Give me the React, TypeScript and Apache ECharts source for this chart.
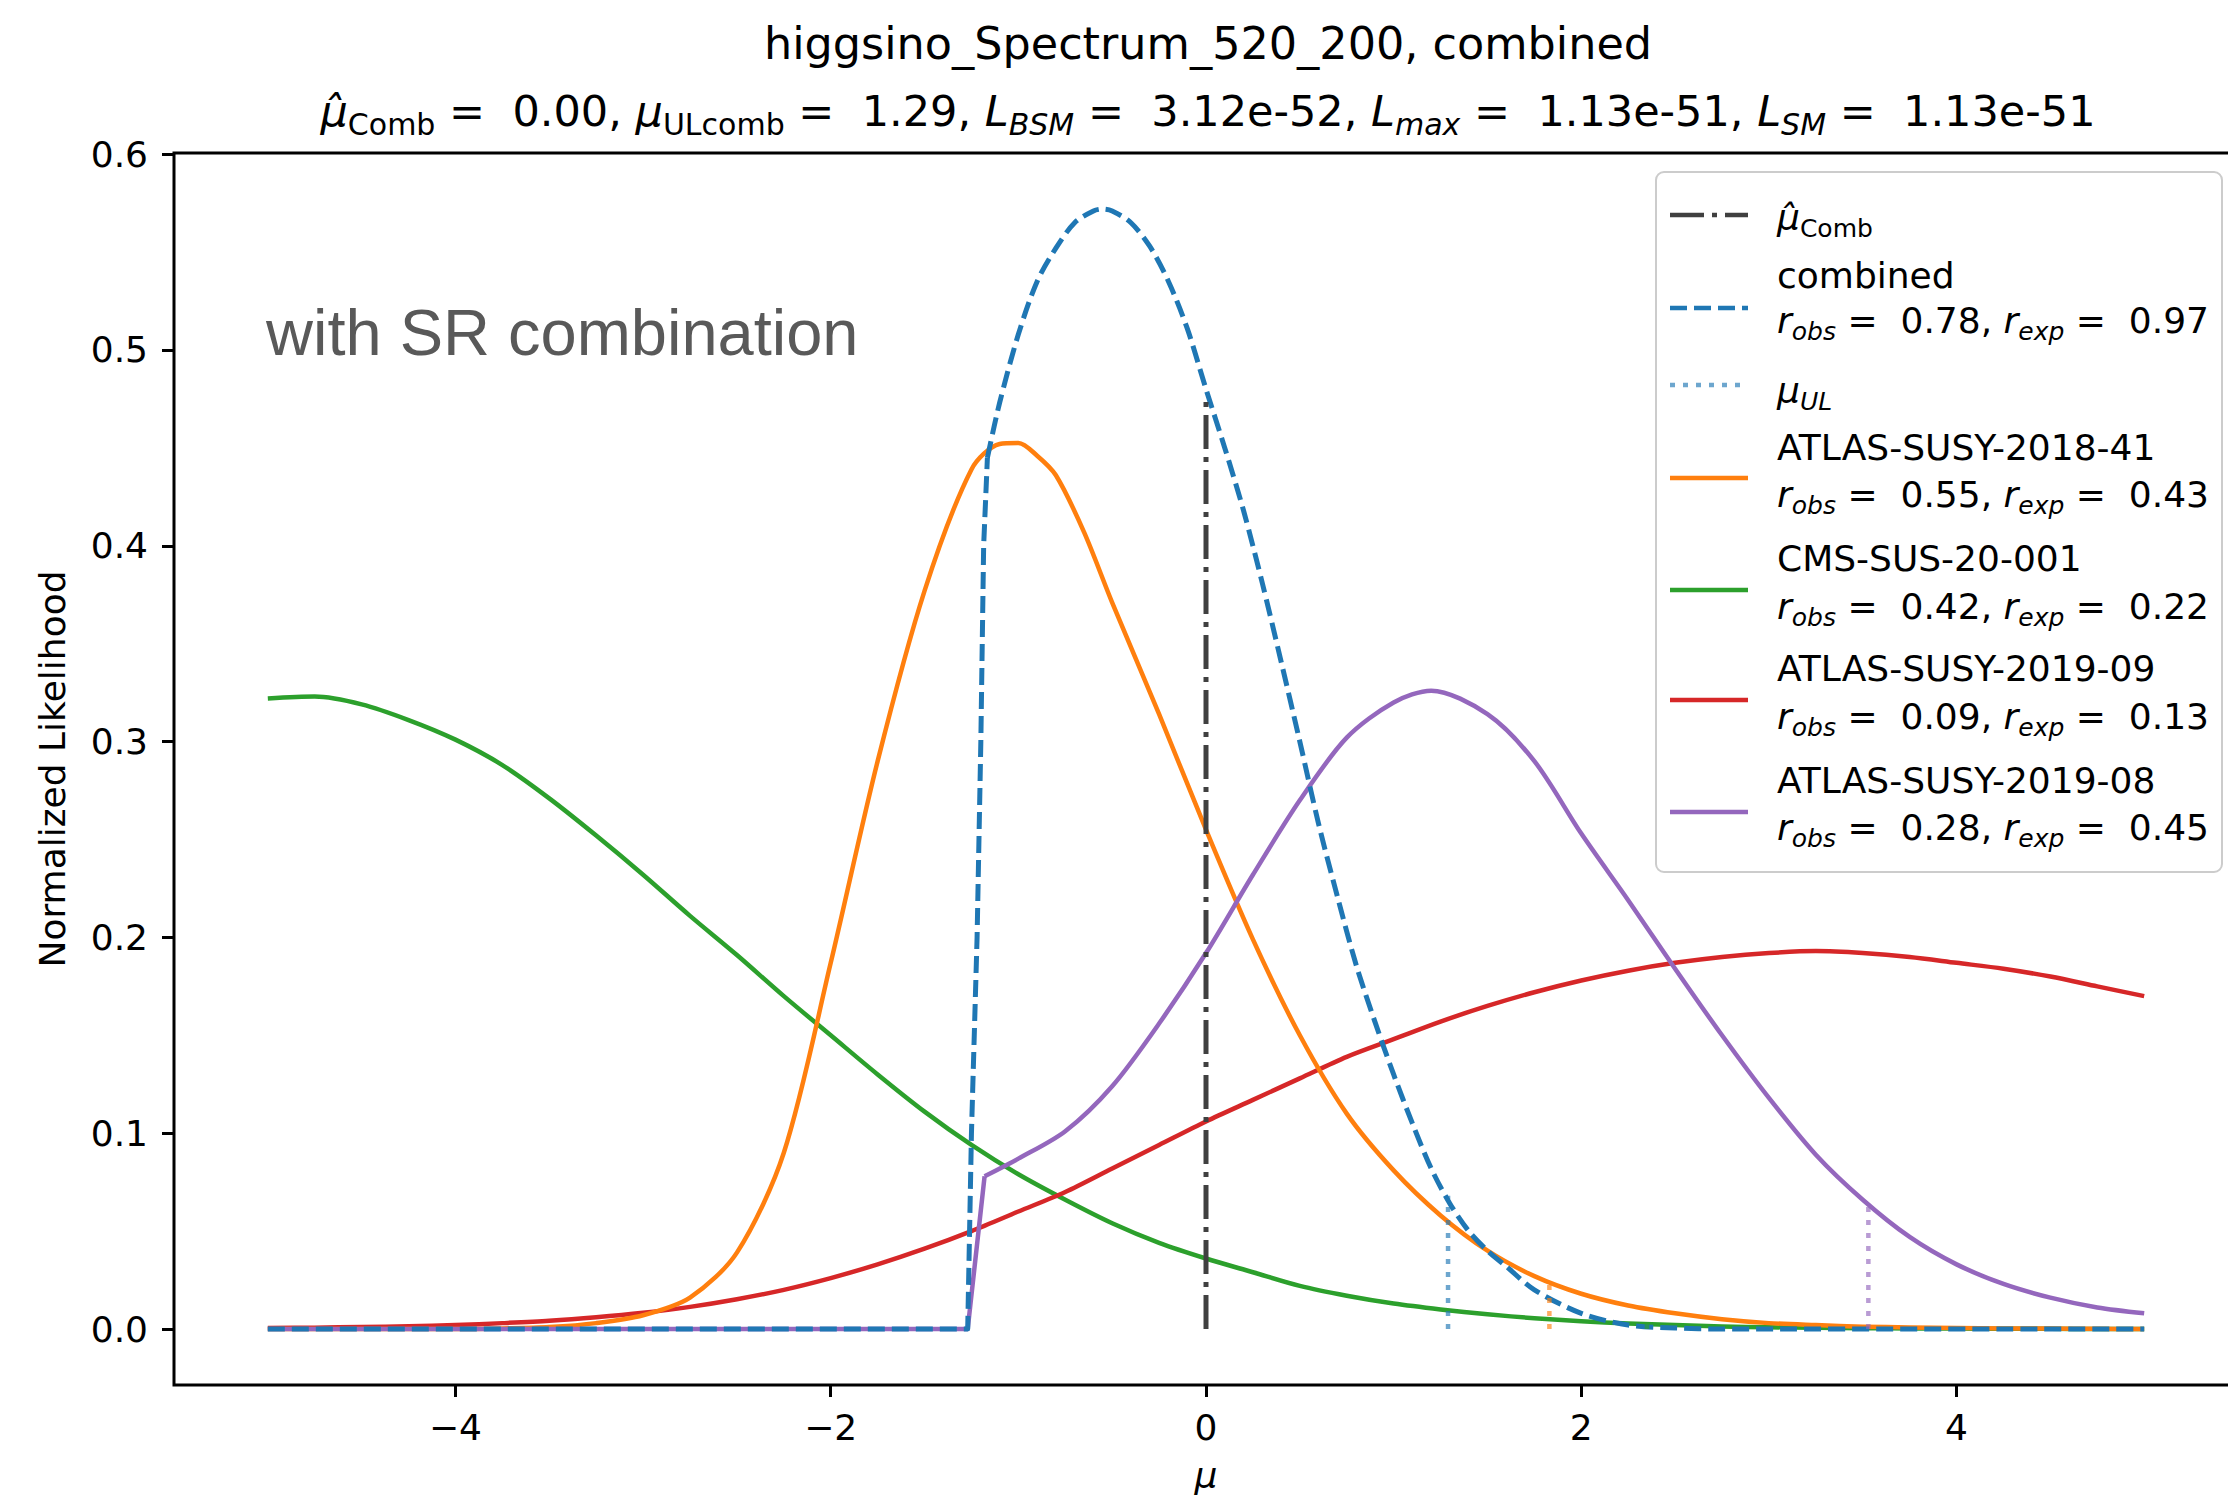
import React, { useEffect, useRef } from "react";
import * as echarts from "echarts";

// ---------- data ----------
const X_GRID = [-5, -4.75, -4.5, -4.25, -4, -3.75, -3.5, -3.25, -3, -2.75, -2.5, -2.25, -2, -1.75, -1.5, -1.25, -1, -0.75, -0.5, -0.25, 0, 0.25, 0.5, 0.75, 1, 1.25, 1.5, 1.75, 2, 2.25, 2.5, 2.75, 3, 3.25, 3.5, 3.75, 4, 4.25, 4.5, 4.75, 5];

const CMS_Y = [0.322, 0.323, 0.319, 0.311, 0.301, 0.288, 0.271, 0.252, 0.232, 0.211, 0.191, 0.17, 0.15, 0.13, 0.111, 0.094, 0.079, 0.066, 0.054, 0.044, 0.036, 0.029, 0.022, 0.017, 0.013, 0.01, 0.0075, 0.0055, 0.004, 0.0028, 0.002, 0.0013, 0.0009, 0.0006, 0.0004, 0.0003, 0.0002, 0.0001, 0.0001, 0, 0];

const ATLAS_2019_09_Y = [0.0005, 0.0007, 0.001, 0.0014, 0.002, 0.003, 0.0042, 0.006, 0.0083, 0.0113, 0.0152, 0.02, 0.026, 0.033, 0.041, 0.05, 0.06, 0.07, 0.082, 0.094, 0.106, 0.117, 0.128, 0.139, 0.148, 0.157, 0.165, 0.172, 0.178, 0.183, 0.187, 0.19, 0.192, 0.193, 0.192, 0.19, 0.187, 0.184, 0.18, 0.175, 0.17];

const ATLAS_2018_41_X = [-5, -4.75, -4.5, -4.25, -4, -3.75, -3.5, -3.25, -3, -2.75, -2.5, -2.25, -2, -1.75, -1.5, -1.25, -1.1, -1, -0.9, -0.8, -0.65, -0.5, -0.25, 0, 0.25, 0.5, 0.75, 1, 1.25, 1.5, 1.75, 2, 2.25, 2.5, 2.75, 3, 3.25, 3.5, 3.75, 4, 4.25, 4.5, 4.75, 5];
const ATLAS_2018_41_Y = [0, 0, 0, 0, 0, 0.0003, 0.001, 0.003, 0.007, 0.016, 0.039, 0.09, 0.187, 0.29, 0.377, 0.439, 0.452, 0.4525, 0.446, 0.436, 0.407, 0.371, 0.314, 0.255, 0.199, 0.15, 0.11, 0.081, 0.058, 0.04, 0.027, 0.018, 0.012, 0.008, 0.005, 0.003, 0.002, 0.0012, 0.0008, 0.0005, 0.0003, 0.0002, 0.0001, 0];

// combined: flat part + steep rise (drawn straight), then the smooth body
const COMBINED_RISE_X = [-5, -1.3, -1.27, -1.25, -1.22, -1.2, -1.185, -1.165];
const COMBINED_RISE_Y = [0, 0, 0, 0.1, 0.2, 0.3, 0.4, 0.445];
const COMBINED_X = [-1.165, -1.1, -1, -0.9, -0.8, -0.7, -0.6, -0.55, -0.5, -0.4, -0.3, -0.2, -0.1, 0, 0.1, 0.2, 0.3, 0.4, 0.5, 0.6, 0.7, 0.8, 0.9, 1, 1.1, 1.2, 1.3, 1.4, 1.5, 1.6, 1.75, 2, 2.25, 2.5, 2.75, 5];
const COMBINED_Y = [0.445, 0.473, 0.508, 0.535, 0.552, 0.565, 0.571, 0.572, 0.571, 0.565, 0.553, 0.535, 0.511, 0.48, 0.45, 0.418, 0.381, 0.341, 0.3, 0.258, 0.221, 0.186, 0.157, 0.13, 0.105, 0.082, 0.064, 0.05, 0.04, 0.032, 0.02, 0.008, 0.002, 0.0005, 0, 0];

// ATLAS-SUSY-2019-08: flat part + jump (straight), then the smooth body
const ATLAS_2019_08_JUMP_X = [-5, -1.27, -1.18];
const ATLAS_2019_08_JUMP_Y = [0, 0, 0.078];
const ATLAS_2019_08_X = [-1.18, -1, -0.75, -0.5, -0.25, 0, 0.25, 0.5, 0.75, 1, 1.2, 1.5, 1.75, 2, 2.25, 2.5, 2.75, 3, 3.25, 3.5, 3.75, 4, 4.25, 4.5, 4.75, 5];
const ATLAS_2019_08_Y = [0.078, 0.087, 0.101, 0.124, 0.156, 0.192, 0.232, 0.27, 0.302, 0.32, 0.326, 0.314, 0.29, 0.253, 0.219, 0.184, 0.15, 0.118, 0.089, 0.066, 0.047, 0.033, 0.023, 0.016, 0.011, 0.008];

// vertical markers: mu-hat and upper limits
const MU_HAT = 0;
const MU_HAT_TOP = 0.477;
const UL_COMBINED = [1.29, 0.068];
const UL_2018_41 = [1.83, 0.024];
const UL_CMS = [2.35, 0.003];
const UL_2019_08 = [3.53, 0.064];

const X_TICKS = [-4, -2, 0, 2, 4];
const Y_TICKS = [0, 0.1, 0.2, 0.3, 0.4, 0.5, 0.6];

// ---------- styling ----------
const FONT = "DejaVu Sans";
const C_BLUE = "#1f77b4";
const C_ORANGE = "#ff7f0e";
const C_GREEN = "#2ca02c";
const C_RED = "#d62728";
const C_PURPLE = "#9467bd";
const C_BLACK = "#404040";
const LW = 4.5;
const DASH = [17, 7];
const DOT = [5, 8];
const DASHDOT = [34, 8, 5, 8];
const SMOOTH = 0.3;

const zip = (xs: number[], ys: number[]) => xs.map((x, i) => [x, ys[i]]);

const lineSeries = (name: string, data: number[][], color: string, type: any, width: number, opacity = 1, z = 2, smooth: any = false) => ({
  name,
  type: "line",
  data,
  showSymbol: false,
  symbol: "none",
  clip: true,
  z,
  smooth,
  lineStyle: { color, width, type, opacity, cap: "butt", join: "round" },
});

const vline = (name: string, x: number, top: number, color: string, type: any, width: number, opacity = 1, z = 3) =>
  lineSeries(name, [[x, 0], [x, top]], color, type, width, opacity, z);

const richLegend = {
  n: { fontFamily: FONT, fontSize: 36, lineHeight: 48, fill: "#000", color: "#000", verticalAlign: "middle" },
  it: { fontFamily: FONT, fontSize: 36, fontStyle: "italic", lineHeight: 48, fill: "#000", color: "#000", verticalAlign: "middle" },
  si: { fontFamily: FONT, fontSize: 25, fontStyle: "italic", lineHeight: 32, fill: "#000", color: "#000", verticalAlign: "bottom" },
  sr: { fontFamily: FONT, fontSize: 25, lineHeight: 32, fill: "#000", color: "#000", verticalAlign: "bottom" },
};

const richTitle = {
  n: { fontFamily: FONT, fontSize: 43, lineHeight: 56, fill: "#000", verticalAlign: "middle" },
  it: { fontFamily: FONT, fontSize: 43, fontStyle: "italic", lineHeight: 56, fill: "#000", verticalAlign: "middle" },
  si: { fontFamily: FONT, fontSize: 30, fontStyle: "italic", lineHeight: 36, fill: "#000", verticalAlign: "bottom" },
  sr: { fontFamily: FONT, fontSize: 30, lineHeight: 36, fill: "#000", verticalAlign: "bottom" },
};

const rLine = (obs: string, exp: string) =>
  `{it|r}{si|obs}{n| =  ${obs}, }{it|r}{si|exp}{n| =  ${exp}}`;

const LEG_X1 = 1670;
const LEG_X2 = 1748;
const LEG_TX = 1777;

const legendText = (text: string, y: number) => ({
  type: "text",
  x: LEG_TX,
  y,
  z: 101,
  style: { text, rich: richLegend, fontFamily: FONT, fontSize: 36, fill: "#000", verticalAlign: "middle", align: "left" },
});

const legendHandle = (y: number, color: string, dash: any, opacity = 1) => ({
  type: "line",
  z: 101,
  shape: { x1: LEG_X1, y1: y, x2: LEG_X2, y2: y },
  style: { stroke: color, lineWidth: LW, lineDash: dash, opacity },
});

export default function App() {
  const ref = useRef<HTMLDivElement>(null);

  useEffect(() => {
    if (!ref.current) return;
    const chart = echarts.init(ref.current, undefined, { renderer: "svg" });

    const option: any = {
      animation: false,
      backgroundColor: "#fff",
      grid: {
        left: 174,
        top: 153,
        width: 2064,
        height: 1232,
        show: true,
        borderColor: "#000",
        borderWidth: 3,
        backgroundColor: "transparent",
        containLabel: false,
        outerBoundsMode: "none",
      },
      xAxis: {
        type: "value",
        min: -5.5,
        max: 5.5,
        axisLine: { show: false, onZero: false },
        splitLine: { show: false },
        axisTick: { show: true, customValues: X_TICKS, length: 12, lineStyle: { color: "#000", width: 3 } },
        axisLabel: {
          customValues: X_TICKS,
          formatter: (v: number) => (v < 0 ? "\u2212" + Math.abs(v) : String(v)),
          fontFamily: FONT,
          fontSize: 36,
          color: "#000",
          margin: 24,
        },
        name: "\u03bc",
        nameLocation: "middle",
        nameGap: 72,
        nameTextStyle: { fontFamily: FONT, fontSize: 36, fontStyle: "italic", color: "#000" },
      },
      yAxis: {
        type: "value",
        min: -0.0286,
        max: 0.6006,
        axisLine: { show: false, onZero: false },
        splitLine: { show: false },
        axisTick: { show: true, customValues: Y_TICKS, length: 12, lineStyle: { color: "#000", width: 3 } },
        axisLabel: {
          customValues: Y_TICKS,
          formatter: (v: number) => v.toFixed(1),
          fontFamily: FONT,
          fontSize: 36,
          color: "#000",
          margin: 26,
        },
        name: "Normalized Likelihood",
        nameLocation: "middle",
        nameGap: 104,
        nameRotate: 90,
        nameTextStyle: { fontFamily: FONT, fontSize: 36, color: "#000" },
      },
      series: [
        lineSeries("CMS-SUS-20-001", zip(X_GRID, CMS_Y), C_GREEN, "solid", LW, 1, 2, SMOOTH),
        lineSeries("ATLAS-SUSY-2019-09", zip(X_GRID, ATLAS_2019_09_Y), C_RED, "solid", LW, 1, 2, SMOOTH),
        lineSeries("ATLAS-SUSY-2018-41", zip(ATLAS_2018_41_X, ATLAS_2018_41_Y), C_ORANGE, "solid", LW, 1, 2, SMOOTH),
        lineSeries("ATLAS-SUSY-2019-08 jump", zip(ATLAS_2019_08_JUMP_X, ATLAS_2019_08_JUMP_Y), C_PURPLE, "solid", LW),
        lineSeries("ATLAS-SUSY-2019-08", zip(ATLAS_2019_08_X, ATLAS_2019_08_Y), C_PURPLE, "solid", LW, 1, 2, SMOOTH),
        lineSeries("combined rise", zip(COMBINED_RISE_X, COMBINED_RISE_Y), C_BLUE, DASH, 5, 1, 3),
        lineSeries("combined", zip(COMBINED_X, COMBINED_Y), C_BLUE, DASH, 5, 1, 3, SMOOTH),
        vline("mu_hat", MU_HAT, MU_HAT_TOP, C_BLACK, DASHDOT, 5, 1, 4),
        vline("ul_combined", UL_COMBINED[0], UL_COMBINED[1], C_BLUE, DOT, LW, 0.65),
        vline("ul_2018_41", UL_2018_41[0], UL_2018_41[1], C_ORANGE, DOT, LW, 0.65),
        vline("ul_cms", UL_CMS[0], UL_CMS[1], C_GREEN, DOT, LW, 0.65),
        vline("ul_2019_08", UL_2019_08[0], UL_2019_08[1], C_PURPLE, DOT, LW, 0.65),
      ],
      graphic: [
        {
          type: "text",
          x: 1208,
          y: 43,
          style: { text: "higgsino_Spectrum_520_200, combined", fontFamily: FONT, fontSize: 44.5, fill: "#000", align: "center", verticalAlign: "middle" },
        },
        {
          type: "text",
          x: 1208,
          y: 111,
          style: {
            text:
              "{it|\u03bc\u0302}{sr|Comb}{n| =  0.00, }{it|\u03bc}{sr|ULcomb}{n| =  1.29, }{it|L}{si|BSM}{n| =  3.12e-52, }{it|L}{si|max}{n| =  1.13e-51, }{it|L}{si|SM}{n| =  1.13e-51}",
            rich: richTitle,
            fontFamily: FONT,
            fontSize: 43,
            fill: "#000",
            align: "center",
            verticalAlign: "middle",
          },
        },
        {
          type: "text",
          x: 266,
          y: 332,
          z: 50,
          style: { text: "with SR combination", fontFamily: "Liberation Sans", fontSize: 65, fill: "#595959", align: "left", verticalAlign: "middle" },
        },
        {
          type: "rect",
          z: 100,
          shape: { x: 1656, y: 172, width: 566, height: 700, r: 8 },
          style: { fill: "rgba(255,255,255,0.8)", stroke: "#cccccc", lineWidth: 2 },
        },
        legendHandle(215, C_BLACK, DASHDOT),
        legendText("{it|\u03bc\u0302}{sr|Comb}", 217),
        legendHandle(308, C_BLUE, DASH),
        legendText("combined", 275),
        legendText(rLine("0.78", "0.97"), 320),
        legendHandle(385, C_BLUE, DOT, 0.65),
        legendText("{it|\u03bc}{si|UL}", 390),
        legendHandle(478, C_ORANGE, null),
        legendText("ATLAS-SUSY-2018-41", 447),
        legendText(rLine("0.55", "0.43"), 494),
        legendHandle(590, C_GREEN, null),
        legendText("CMS-SUS-20-001", 558),
        legendText(rLine("0.42", "0.22"), 606),
        legendHandle(700, C_RED, null),
        legendText("ATLAS-SUSY-2019-09", 668),
        legendText(rLine("0.09", "0.13"), 716),
        legendHandle(812, C_PURPLE, null),
        legendText("ATLAS-SUSY-2019-08", 780),
        legendText(rLine("0.28", "0.45"), 827),
      ],
    };

    chart.setOption(option);
    return () => chart.dispose();
  }, []);

  return (
    <div
      ref={ref}
      style={{ position: "absolute", left: 0, top: 0, width: 2228, height: 1496, background: "#fff" }}
    />
  );
}
